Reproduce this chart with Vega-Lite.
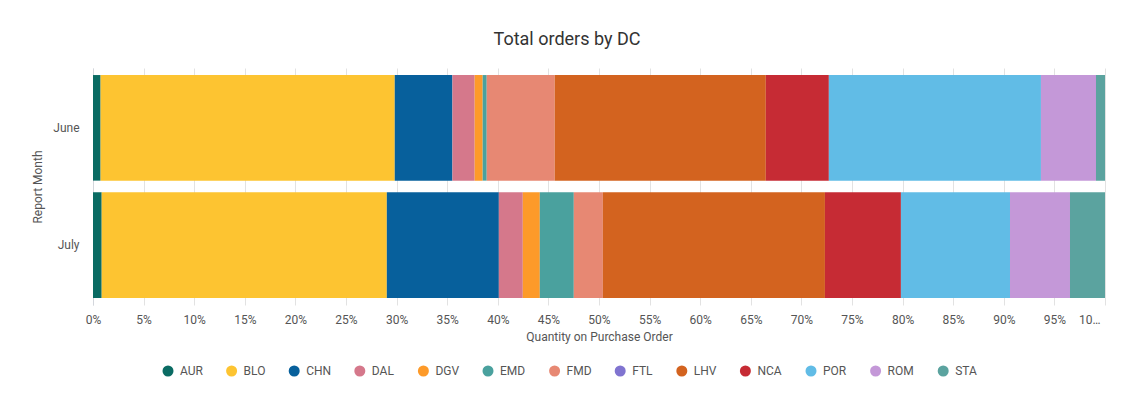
{
  "$schema": "https://vega.github.io/schema/vega-lite/v6.json",
  "autosize": {"type": "none"},
  "width": 1012,
  "height": 237,
  "padding": {"left": 93, "top": 68, "right": 31, "bottom": 111},
  "background": "white",
  "title": {
    "text": "Total orders by DC",
    "font": "Roboto",
    "fontSize": 18,
    "fontWeight": "normal",
    "color": "#333333",
    "offset": 19,
    "dx": -32
  },
  "data": {
    "values": [
      {"month": "June", "dc": "AUR", "qty": 0.75},
      {"month": "June", "dc": "BLO", "qty": 29.07},
      {"month": "June", "dc": "CHN", "qty": 5.70},
      {"month": "June", "dc": "DAL", "qty": 2.20},
      {"month": "June", "dc": "DGV", "qty": 0.79},
      {"month": "June", "dc": "EMD", "qty": 0.40},
      {"month": "June", "dc": "FMD", "qty": 6.72},
      {"month": "June", "dc": "FTL", "qty": 0},
      {"month": "June", "dc": "LHV", "qty": 20.86},
      {"month": "June", "dc": "NCA", "qty": 6.23},
      {"month": "June", "dc": "POR", "qty": 20.96},
      {"month": "June", "dc": "ROM", "qty": 5.44},
      {"month": "June", "dc": "STA", "qty": 0.89},
      {"month": "July", "dc": "AUR", "qty": 0.86},
      {"month": "July", "dc": "BLO", "qty": 28.18},
      {"month": "July", "dc": "CHN", "qty": 11.07},
      {"month": "July", "dc": "DAL", "qty": 2.37},
      {"month": "July", "dc": "DGV", "qty": 1.68},
      {"month": "July", "dc": "EMD", "qty": 3.36},
      {"month": "July", "dc": "FMD", "qty": 2.87},
      {"month": "July", "dc": "FTL", "qty": 0},
      {"month": "July", "dc": "LHV", "qty": 21.95},
      {"month": "July", "dc": "NCA", "qty": 7.51},
      {"month": "July", "dc": "POR", "qty": 10.78},
      {"month": "July", "dc": "ROM", "qty": 5.93},
      {"month": "July", "dc": "STA", "qty": 3.46}
    ]
  },
  "mark": {"type": "bar", "strokeWidth": 0},
  "encoding": {
    "y": {
      "field": "month",
      "type": "nominal",
      "sort": ["June", "July"],
      "scale": {"paddingInner": 0.1, "paddingOuter": 0.06},
      "axis": {
        "title": "Report Month",
        "ticks": false,
        "domain": true,
        "domainColor": "#d3d6dc",
        "labelPadding": 14,
        "labelFont": "Roboto",
        "labelFontSize": 12,
        "labelColor": "#555555",
        "titleFont": "Roboto",
        "titleFontSize": 12,
        "titleFontWeight": "normal",
        "titleColor": "#555555",
        "titlePadding": 8
      }
    },
    "x": {
      "field": "qty",
      "type": "quantitative",
      "stack": "normalize",
      "axis": {
        "title": "Quantity on Purchase Order",
        "format": ".0%",
        "tickCount": 20,
        "ticks": false,
        "domain": false,
        "grid": true,
        "gridColor": "#e2e2e2",
        "labelPadding": 9,
        "labelFont": "Roboto",
        "labelFontSize": 12,
        "labelColor": "#555555",
        "labelLimit": 25,
        "labelAlign": {"condition": {"test": "datum.value >= 1", "value": "right"}, "value": "center"},
        "labelOffset": {"condition": {"test": "datum.value >= 1", "value": -5}, "value": 0},
        "titleFont": "Roboto",
        "titleFontSize": 12,
        "titleFontWeight": "normal",
        "titleColor": "#555555",
        "titlePadding": 6
      }
    },
    "color": {
      "field": "dc",
      "type": "nominal",
      "scale": {
        "domain": ["AUR", "BLO", "CHN", "DAL", "DGV", "EMD", "FMD", "FTL", "LHV", "NCA", "POR", "ROM", "STA"],
        "range": ["#0a6b63", "#fdc431", "#07609c", "#d5788b", "#fd9a29", "#4aa19e", "#e78873", "#8074d0", "#d3631f", "#c62b34", "#61bce6", "#c498d8", "#5ba39f"]
      },
      "legend": {
        "title": null,
        "orient": "none",
        "direction": "horizontal",
        "legendX": 69,
        "legendY": 297,
        "symbolType": "circle",
        "symbolSize": 121,
        "symbolStrokeWidth": 0,
        "labelOffset": 6,
        "columnPadding": 22.6,
        "labelFont": "Roboto",
        "labelFontSize": 12,
        "labelColor": "#555555"
      }
    }
  },
  "config": {"view": {"stroke": null}}
}
